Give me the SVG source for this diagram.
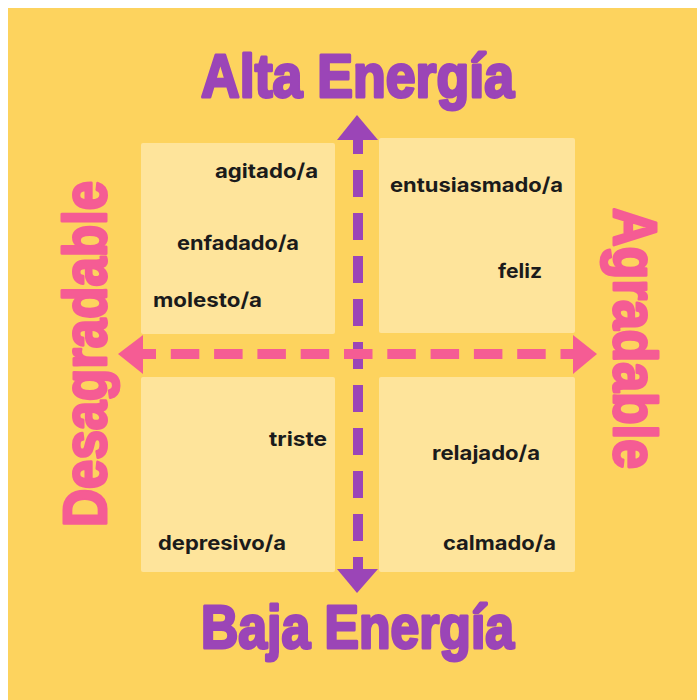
<svg xmlns="http://www.w3.org/2000/svg" width="697" height="700" viewBox="0 0 697 700">
<style>
.bg{fill:#FDD35E}
.box{fill:#FEE49B}
.word{font-family:Inter,"Liberation Sans",sans-serif;font-weight:700;font-size:20px;fill:#1b1b1b}
.title{font-family:"Liberation Sans",Arial,sans-serif;font-weight:700;font-size:61px;stroke-width:3;stroke-linejoin:round;paint-order:stroke}
.purple{fill:#9B45B7;stroke:#9B45B7}
.pink{fill:#F55C94;stroke:#F55C94}
</style>
<rect width="697" height="700" fill="#ffffff"/>
<rect class="bg" x="8" y="8" width="689" height="692"/>
<g id="quad-tl"><rect class="box" x="141" y="143" width="194" height="191" rx="2"/>
<text class="word" x="215" y="178" textLength="103" lengthAdjust="spacingAndGlyphs">agitado/a</text>
<text class="word" x="177" y="250" textLength="122" lengthAdjust="spacingAndGlyphs">enfadado/a</text>
<text class="word" x="153" y="307" textLength="109" lengthAdjust="spacingAndGlyphs">molesto/a</text></g>
<g id="quad-tr"><rect class="box" x="379" y="138" width="196" height="195" rx="2"/>
<text class="word" x="390" y="192" textLength="173" lengthAdjust="spacingAndGlyphs">entusiasmado/a</text>
<text class="word" x="498" y="278" textLength="44" lengthAdjust="spacingAndGlyphs">feliz</text></g>
<g id="quad-bl"><rect class="box" x="141" y="377" width="194" height="195" rx="2"/>
<text class="word" x="269" y="446" textLength="58" lengthAdjust="spacingAndGlyphs">triste</text>
<text class="word" x="158" y="550" textLength="128" lengthAdjust="spacingAndGlyphs">depresivo/a</text></g>
<g id="quad-br"><rect class="box" x="379" y="377" width="196" height="195" rx="2"/>
<text class="word" x="432" y="460" textLength="108" lengthAdjust="spacingAndGlyphs">relajado/a</text>
<text class="word" x="443" y="550" textLength="113" lengthAdjust="spacingAndGlyphs">calmado/a</text></g>
<g id="connectors">
<line x1="358" y1="140" x2="358" y2="569" stroke="#9B45B7" stroke-width="10" stroke-dasharray="27 16" stroke-dashoffset="13"/>
<polygon fill="#9B45B7" points="357,115 337,140 378,140"/>
<polygon fill="#9B45B7" points="357,593 337,569 378,569"/>
<line x1="143" y1="354" x2="573" y2="354" stroke="#F55C94" stroke-width="10" stroke-dasharray="28.5 14.8" stroke-dashoffset="15.5"/>
<polygon fill="#F55C94" points="118,354 143,335 143,374"/>
<polygon fill="#F55C94" points="597,354 573,335 573,374"/>
</g>
<g id="label-top"><text class="title purple" x="201" y="97" textLength="313" lengthAdjust="spacingAndGlyphs">Alta Energía</text></g>
<g id="label-bottom"><text class="title purple" x="201" y="648" textLength="313" lengthAdjust="spacingAndGlyphs">Baja Energía</text></g>
<g id="label-left"><text class="title pink" transform="translate(106,527) rotate(-90)" x="0" y="0" textLength="346" lengthAdjust="spacingAndGlyphs">Desagradable</text></g>
<g id="label-right"><text class="title pink" transform="translate(614,208) rotate(90)" x="0" y="0" textLength="261" lengthAdjust="spacingAndGlyphs">Agradable</text></g>
</svg>
